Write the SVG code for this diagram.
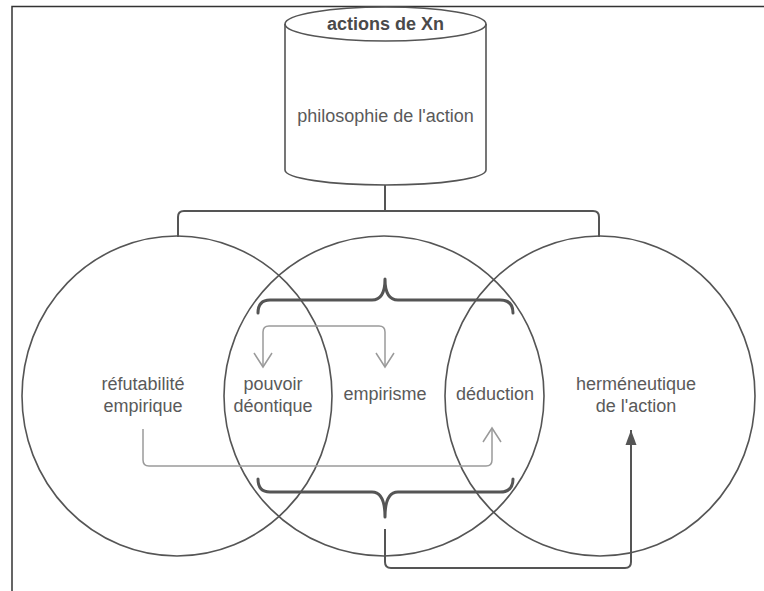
<svg xmlns="http://www.w3.org/2000/svg" width="764" height="591" viewBox="0 0 764 591">
<style>
.bg{fill:#ffffff}
.frame{fill:none;stroke:#333;stroke-width:1.5}
.shape{fill:none;stroke:#555;stroke-width:1.6}
.brace{fill:none;stroke:#555;stroke-width:3;stroke-linecap:round;stroke-linejoin:round}
.dark{fill:none;stroke:#555;stroke-width:2}
.light{fill:none;stroke:#9a9a9a;stroke-width:1.5}
.t{font-family:"Liberation Sans",Arial,sans-serif;font-size:18px;fill:#5a5a5a;text-anchor:middle}
.b{font-weight:bold;fill:#4a4a4a}
</style>
<defs>
<marker id="open" markerUnits="userSpaceOnUse" markerWidth="20" markerHeight="22" viewBox="0 0 16 22" refX="14" refY="11" orient="auto-start-reverse">
<path d="M0,2 L14,11 L0,20" fill="none" stroke="#9a9a9a" stroke-width="1.5"/>
</marker>
<marker id="solid" markerUnits="userSpaceOnUse" markerWidth="16" markerHeight="14" viewBox="0 0 16 14" refX="15" refY="7" orient="auto">
<path d="M0,1.5 L15,7 L0,12.5 z" fill="#555"/>
</marker>
</defs>
<rect class="bg" x="0" y="0" width="764" height="591"/>
<path class="frame" d="M12,591 V6.5 H764"/>

<g id="node-cylinder">
<path class="shape" d="M285,24 V170 A100.5,15 0 0 0 486,170 V24"/>
<ellipse class="shape" cx="385.5" cy="24" rx="100.5" ry="17"/>
<text class="t b" x="385.5" y="30">actions de Xn</text>
<text class="t" x="385.5" y="122">philosophie de l'action</text>
</g>

<g id="node-left">
<ellipse class="shape" cx="177" cy="396" rx="155" ry="160"/>
<text class="t" x="143" y="390">réfutabilité</text>
<text class="t" x="143" y="412">empirique</text>
</g>

<g id="node-middle">
<ellipse class="shape" cx="384" cy="396" rx="160" ry="160"/>
<text class="t" x="385" y="400">empirisme</text>
</g>

<g id="node-right">
<ellipse class="shape" cx="600" cy="396" rx="155" ry="160"/>
<text class="t" x="636" y="390">herméneutique</text>
<text class="t" x="636" y="412">de l'action</text>
</g>

<g id="node-pouvoir">
<text class="t" x="273" y="390">pouvoir</text>
<text class="t" x="273" y="412">déontique</text>
</g>

<g id="node-deduction">
<text class="t" x="495" y="400">déduction</text>
</g>

<g id="braces">
<path class="brace" d="M258,313 Q258,300 270,300 H372 Q385,300 385,279 Q385,300 398,300 H500 Q513,300 513,313"/>
<path class="brace" d="M258,479 Q258,492 270,492 H372 Q385,492 385,517 Q385,492 398,492 H500 Q513,492 513,479"/>
</g>

<g id="connectors">
<path class="dark" d="M385,185 V211"/>
<path class="dark" d="M178,237 V217 Q178,211 184,211 H593 Q599,211 599,217 V237"/>
<path class="dark" d="M385,529 V562 Q385,568 391,568 H625 Q631,568 631,562 V430" marker-end="url(#solid)"/>
<path class="light" d="M143,429 V460 Q143,466 149,466 H486 Q492,466 492,460 V428" marker-end="url(#open)"/>
<path class="light" d="M263,367 V332 Q263,326 269,326 H379 Q385,326 385,332 V367" marker-start="url(#open)" marker-end="url(#open)"/>
</g>
</svg>
